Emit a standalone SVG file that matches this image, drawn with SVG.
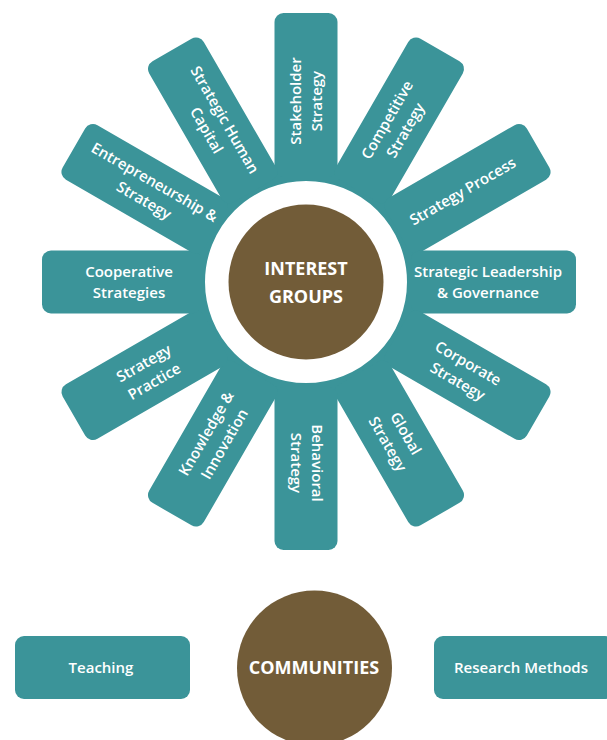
<svg xmlns="http://www.w3.org/2000/svg" width="607" height="740" viewBox="0 0 607 740">
<style>
.bar{fill:#3b9499}
.lbl{font-family:"Open Sans","Noto Sans","DejaVu Sans",sans-serif;font-weight:600;font-size:15px;fill:#ffffff;text-anchor:middle}
.ctr{font-family:"Open Sans","Noto Sans","DejaVu Sans",sans-serif;font-weight:700;font-size:18px;fill:#ffffff;text-anchor:middle}
.hub{fill:#725c38}
</style>
<rect width="607" height="740" fill="#ffffff"/>
<g id="connectors">
<circle cx="306" cy="282" r="111" fill="none" stroke="#3b9499" stroke-width="20"/>
</g>
<g id="stakeholder-strategy">
<rect class="bar" x="274.5" y="13" width="63" height="164" rx="9" transform="rotate(0 306 282)"/>
<text class="lbl" transform="translate(306 101) rotate(-90)"><tspan x="0" y="-5.5">Stakeholder</tspan><tspan x="0" y="15.5">Strategy</tspan></text>
</g>
<g id="competitive-strategy">
<rect class="bar" x="274.5" y="14" width="63" height="163" rx="9" transform="rotate(30 306 282)"/>
<text class="lbl" transform="translate(396.5 125.2) rotate(-60)"><tspan x="0" y="-5.5">Competitive</tspan><tspan x="0" y="15.5">Strategy</tspan></text>
</g>
<g id="strategy-process">
<rect class="bar" x="274.5" y="14" width="63" height="163" rx="9" transform="rotate(60 306 282)"/>
<text class="lbl" transform="translate(462.8 191.5) rotate(-30)"><tspan x="0" y="5">Strategy Process</tspan></text>
</g>
<g id="strategic-leadership">
<rect class="bar" x="274.5" y="12" width="63" height="165" rx="9" transform="rotate(90 306 282)"/>
<text class="lbl" transform="translate(488 282)"><tspan x="0" y="-5.5">Strategic Leadership</tspan><tspan x="0" y="15.5">&amp; Governance</tspan></text>
</g>
<g id="corporate-strategy">
<rect class="bar" x="274.5" y="14" width="63" height="163" rx="9" transform="rotate(120 306 282)"/>
<text class="lbl" transform="translate(462.8 372.5) rotate(30)"><tspan x="0" y="-5.5">Corporate</tspan><tspan x="0" y="15.5">Strategy</tspan></text>
</g>
<g id="global-strategy">
<rect class="bar" x="274.5" y="14" width="63" height="163" rx="9" transform="rotate(150 306 282)"/>
<text class="lbl" transform="translate(396.5 438.8) rotate(60)"><tspan x="0" y="-5.5">Global</tspan><tspan x="0" y="15.5">Strategy</tspan></text>
</g>
<g id="behavioral-strategy">
<rect class="bar" x="274.5" y="14" width="63" height="163" rx="9" transform="rotate(180 306 282)"/>
<text class="lbl" transform="translate(306 463) rotate(90)"><tspan x="0" y="-5.5">Behavioral</tspan><tspan x="0" y="15.5">Strategy</tspan></text>
</g>
<g id="knowledge-innovation">
<rect class="bar" x="274.5" y="14" width="63" height="163" rx="9" transform="rotate(210 306 282)"/>
<text class="lbl" transform="translate(215.5 438.8) rotate(-60)"><tspan x="0" y="-5.5">Knowledge &amp;</tspan><tspan x="0" y="15.5">Innovation</tspan></text>
</g>
<g id="strategy-practice">
<rect class="bar" x="274.5" y="14" width="63" height="163" rx="9" transform="rotate(240 306 282)"/>
<text class="lbl" transform="translate(149.2 372.5) rotate(-30)"><tspan x="0" y="-5.5">Strategy</tspan><tspan x="0" y="15.5">Practice</tspan></text>
</g>
<g id="cooperative-strategies">
<rect class="bar" x="274.5" y="18" width="63" height="159" rx="9" transform="rotate(270 306 282)"/>
<text class="lbl" transform="translate(129 282)"><tspan x="0" y="-5.5">Cooperative</tspan><tspan x="0" y="15.5">Strategies</tspan></text>
</g>
<g id="entrepreneurship-strategy">
<rect class="bar" x="274.5" y="14" width="63" height="163" rx="9" transform="rotate(300 306 282)"/>
<text class="lbl" transform="translate(149.2 191.5) rotate(30)"><tspan x="0" y="-5.5">Entrepreneurship &amp;</tspan><tspan x="0" y="15.5">Strategy</tspan></text>
</g>
<g id="strategic-human-capital">
<rect class="bar" x="274.5" y="14" width="63" height="163" rx="9" transform="rotate(330 306 282)"/>
<text class="lbl" transform="translate(215.5 125.2) rotate(60)"><tspan x="0" y="-5.5">Strategic Human</tspan><tspan x="0" y="15.5">Capital</tspan></text>
</g>
<g id="interest-groups">
<circle class="hub" cx="306" cy="282" r="77.5"/>
<text class="ctr" x="306" y="275">INTEREST</text>
<text class="ctr" x="306" y="303">GROUPS</text>
</g>
<g id="teaching">
<rect class="bar" x="15" y="636" width="175" height="63" rx="9"/>
<text class="lbl" x="101" y="673">Teaching</text>
</g>
<g id="communities">
<circle class="hub" cx="314.5" cy="668" r="77.5"/>
<text class="ctr" x="314" y="674">COMMUNITIES</text>
</g>
<g id="research-methods">
<rect class="bar" x="434" y="636" width="180" height="63" rx="9"/>
<text class="lbl" x="521" y="673">Research Methods</text>
</g>
</svg>
